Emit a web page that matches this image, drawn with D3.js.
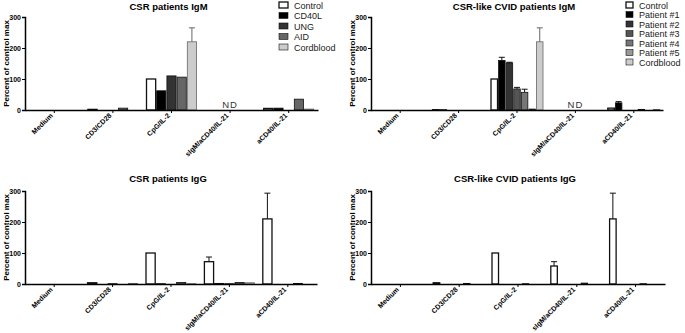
<!DOCTYPE html>
<html>
<head>
<meta charset="utf-8">
<script src="https://cdn.jsdelivr.net/npm/d3@7"></script>
<style>
  body { margin: 0; background: #fff; }
  svg { font-family: "Liberation Sans", Arial, sans-serif; }
</style>
</head>
<body>
<div id="chart"></div>
<script>
// Stimulation conditions (x categories)
const categories = ["Medium", "CD3/CD28", "CpG/IL-2", "sIgM/aCD40/IL-21", "aCD40/IL-21"];
const yTicks = [0, 100, 200, 300];

// Series names
const csrSeries = ["Control", "CD40L", "UNG", "AID", "Cordblood"];
const cvidSeries = ["Control", "Patient #1", "Patient #2", "Patient #3", "Patient #4", "Patient #5", "Cordblood"];
const csrColors = ["#ffffff", "#000000", "#333333", "#666666", "#cccccc"];
const cvidColors = ["#ffffff", "#000000", "#333333", "#555555", "#777777", "#999999", "#cccccc"];

// Values per category (rows) and series (columns), percent of control max
const csrIgM = [
  [0, 0, 0, 0, 0],
  [2, 0, 0, 6, 0],
  [100, 62, 110, 106, 220],
  [0, 0, 0, 0, 0],
  [5, 6, 0, 35, 3]
];
const csrIgMErr = [
  [0, 0, 0, 0, 0],
  [0, 0, 0, 0, 0],
  [0, 0, 0, 0, 265],
  [0, 0, 0, 0, 0],
  [0, 0, 0, 0, 0]
];
const cvidIgM = [
  [0, 0, 0, 0, 0, 0, 0],
  [1, 1, 0, 0, 0, 0, 0],
  [100, 160, 152, 68, 57, 3, 220],
  [0, 0, 0, 0, 0, 0, 0],
  [6, 23, 0, 0, 2, 0, 2]
];
const cvidIgMErr = [
  [0, 0, 0, 0, 0, 0, 0],
  [0, 0, 0, 0, 0, 0, 0],
  [0, 170, 154, 73, 67, 0, 265],
  [0, 0, 0, 0, 0, 0, 0],
  [0, 27, 0, 0, 0, 0, 0]
];
const csrIgG = [
  [0, 0, 0, 0, 0],
  [4, 0, 1, 0, 2],
  [100, 1, 0, 5, 1],
  [72, 2, 1, 5, 4],
  [210, 0, 0, 2, 0]
];
const csrIgGErr = [
  [0, 0, 0, 0, 0],
  [0, 0, 0, 0, 0],
  [0, 0, 0, 0, 0],
  [87, 0, 0, 0, 0],
  [293, 0, 0, 0, 0]
];
const cvidIgG = [
  [0, 0, 0, 0, 0, 0, 0],
  [4, 0, 0, 0, 2, 0, 0],
  [100, 0, 0, 0, 1, 0, 0],
  [58, 0, 0, 0, 3, 0, 0],
  [210, 0, 0, 0, 1, 0, 0]
];
const cvidIgGErr = [
  [0, 0, 0, 0, 0, 0, 0],
  [0, 0, 0, 0, 0, 0, 0],
  [0, 0, 0, 0, 0, 0, 0],
  [72, 0, 0, 0, 0, 0, 0],
  [293, 0, 0, 0, 0, 0, 0]
];

const width = 685, height = 333;
const svg = d3.select("#chart").append("svg")
  .attr("width", width)
  .attr("height", height);

function drawPanel(opt) {
  const g = svg.append("g");
  const x = d3.scaleBand().domain(categories).range([opt.x0, opt.x1]);
  const y = d3.scaleLinear().domain([0, 300]).range([opt.y0, opt.y1]);
  const half = opt.group / 2;
  const xIn = d3.scaleBand().domain(opt.series).range([-half, half]).paddingInner(opt.pad);

  // title
  g.append("text")
    .attr("x", (opt.x0 + opt.x1) / 2 - 3)
    .attr("y", opt.titleY)
    .attr("text-anchor", "middle")
    .attr("font-size", 9.5)
    .attr("font-weight", "bold")
    .text(opt.title);

  // y axis label
  g.append("text")
    .attr("transform", `translate(${opt.x0 - 16},${(opt.y0 + opt.y1) / 2}) rotate(-90)`)
    .attr("text-anchor", "middle")
    .attr("font-size", 8)
    .attr("font-weight", "bold")
    .text("Percent of control max");

  // bars
  categories.forEach((c, ci) => {
    opt.series.forEach((s, si) => {
      const v = opt.values[ci][si];
      if (v <= 0) return;
      const bx = x(c) + x.bandwidth() / 2 + xIn(s);
      const stroke = s === "Cordblood" ? "#666" : "#111";
      const e = opt.errors[ci][si];
      if (e > v) {
        const cx = bx + xIn.bandwidth() / 2;
        g.append("line")
          .attr("x1", cx).attr("x2", cx)
          .attr("y1", y(v)).attr("y2", y(e))
          .attr("stroke", stroke).attr("stroke-width", 1);
        g.append("line")
          .attr("x1", cx - 3).attr("x2", cx + 3)
          .attr("y1", y(e)).attr("y2", y(e))
          .attr("stroke", stroke).attr("stroke-width", 1);
      }
      g.append("rect")
        .attr("x", bx)
        .attr("y", y(v))
        .attr("width", xIn.bandwidth())
        .attr("height", y(0) - y(v))
        .attr("fill", opt.colors[si])
        .attr("stroke", stroke)
        .attr("stroke-width", si === 0 ? 1.3 : 0.8);
    });
  });

  // ND mark
  if (opt.nd) {
    g.append("text")
      .attr("x", x(categories[3]) + x.bandwidth() / 2)
      .attr("y", opt.y0 - 2)
      .attr("text-anchor", "middle")
      .attr("font-size", 9.5)
      .attr("letter-spacing", 1)
      .attr("fill", "#333")
      .text("ND");
  }

  // y axis
  const yAxis = g.append("g")
    .attr("transform", `translate(${opt.x0},0)`)
    .call(d3.axisLeft(y).tickValues(yTicks).tickSize(3).tickPadding(1));
  yAxis.select(".domain").attr("stroke-width", 1.5);
  yAxis.selectAll("text").attr("font-size", 7).attr("font-weight", "bold").attr("font-family", "Liberation Sans, Arial, sans-serif");

  // x axis
  const xAxis = g.append("g")
    .attr("transform", `translate(0,${opt.y0})`)
    .call(d3.axisBottom(x).tickSize(3).tickSizeOuter(0).tickFormat(""));
  xAxis.select(".domain").attr("stroke-width", 1.5);

  categories.forEach(c => {
    const tx = x(c) + x.bandwidth() / 2 - 1;
    g.append("text")
      .attr("transform", `translate(${tx},${opt.y0 + 6}) rotate(-45)`)
      .attr("text-anchor", "end")
      .attr("font-size", 7)
      .attr("font-weight", "bold")
      .attr("fill", "#000")
      .text(c);
  });

  // legend
  if (opt.legend) {
    const L = opt.legend;
    opt.series.forEach((s, si) => {
      const cy = L.y + si * L.step;
      g.append("rect")
        .attr("x", L.x).attr("y", cy - 3)
        .attr("width", L.w).attr("height", 6)
        .attr("fill", opt.colors[si])
        .attr("stroke", "#111").attr("stroke-width", si === 0 ? 1.3 : 0.6);
      g.append("text")
        .attr("x", L.x + L.w + 6).attr("y", cy + 3.5)
        .attr("font-size", 9)
        .attr("fill", "#222")
        .text(s);
    });
  }
}

drawPanel({ title: "CSR patients IgM", titleY: 10, x0: 25, x1: 318, y0: 110, y1: 17,
  series: csrSeries, colors: csrColors, values: csrIgM, errors: csrIgMErr,
  group: 50, pad: 0.1, nd: true, legend: { x: 279, y: 5, step: 10.5, w: 9 } });
drawPanel({ title: "CSR-like CVID patients IgM", titleY: 10, x0: 371, x1: 663, y0: 110, y1: 17,
  series: cvidSeries, colors: cvidColors, values: cvidIgM, errors: cvidIgMErr,
  group: 52, pad: 0.14, nd: true, legend: { x: 626, y: 5, step: 9.5, w: 7 } });
drawPanel({ title: "CSR patients IgG", titleY: 182, x0: 25, x1: 317, y0: 284, y1: 191,
  series: csrSeries, colors: csrColors, values: csrIgG, errors: csrIgGErr,
  group: 50, pad: 0.1, nd: false });
drawPanel({ title: "CSR-like CVID patients IgG", titleY: 182, x0: 371, x1: 665, y0: 284, y1: 191,
  series: cvidSeries, colors: cvidColors, values: cvidIgG, errors: cvidIgGErr,
  group: 52, pad: 0.14, nd: false });
</script>
</body>
</html>
